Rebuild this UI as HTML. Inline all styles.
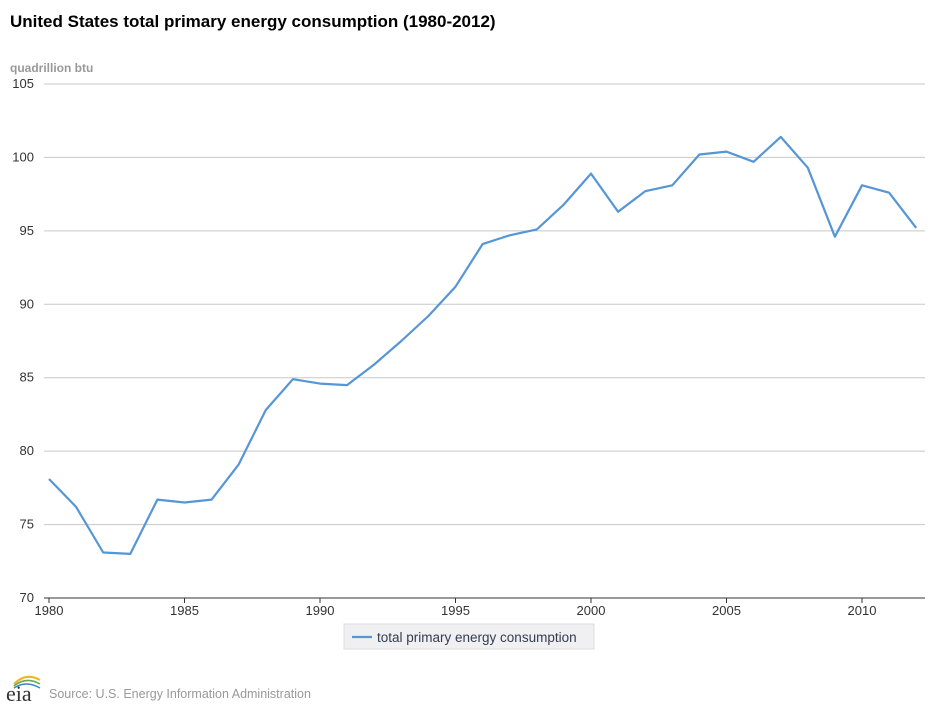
<!DOCTYPE html>
<html><head><meta charset="utf-8"><style>
body{margin:0;background:#fff;font-family:"Liberation Sans",sans-serif;}
#wrap{position:relative;width:937px;height:708px;overflow:hidden;}
</style></head><body>
<div id="wrap">
<svg id="chart" width="937" height="708">
<text x="10" y="27" font-size="17" font-weight="bold" fill="#000">United States total primary energy consumption (1980-2012)</text>
<text x="10" y="72" font-size="12" font-weight="bold" fill="#999">quadrillion btu</text>
<g id="grid"></g>
<g id="yticks"></g>
<g id="xticks"></g>
<path id="line" fill="none" stroke="#5596d6" stroke-width="2.2" stroke-linejoin="round"/>
<g>
<rect x="344" y="624" width="250" height="25" fill="#f0f0f2" stroke="#ddd"/>
<line x1="352" y1="637" x2="372" y2="637" stroke="#5596d6" stroke-width="2.2"/>
<text x="377" y="642" font-size="13.5" fill="#333c50">total primary energy consumption</text>
</g>
<g>
<text x="6" y="701" font-size="22" font-family="Liberation Serif,serif" fill="#333">eia</text>
<path d="M14 684 Q26 672 40 680" stroke="#e8b923" stroke-width="2" fill="none"/>
<path d="M14 686 Q26 676 40 684" stroke="#6aa84f" stroke-width="1.5" fill="none"/>
<path d="M14 688 Q26 680 40 688" stroke="#3d85c6" stroke-width="1.5" fill="none"/>
</g>
<text x="49" y="698" font-size="12.5" fill="#999">Source: U.S. Energy Information Administration</text>
</svg>
</div>
<script>
const years=[1980,1981,1982,1983,1984,1985,1986,1987,1988,1989,1990,1991,1992,1993,1994,1995,1996,1997,1998,1999,2000,2001,2002,2003,2004,2005,2006,2007,2008,2009,2010,2011,2012];
const consumption=[78.1,76.2,73.1,73.0,76.7,76.5,76.7,79.1,82.8,84.9,84.6,84.5,85.9,87.5,89.2,91.2,94.1,94.7,95.1,96.8,98.9,96.3,97.7,98.1,100.2,100.4,99.7,101.4,99.3,94.6,98.1,97.6,95.2];
const yTicks=[70,75,80,85,90,95,100,105];
const xTicks=[1980,1985,1990,1995,2000,2005,2010];
const NS="http://www.w3.org/2000/svg";
const x=v=>49+(v-1980)*(862-49)/30;
const y=v=>598-(v-70)*(598-84)/35;
const grid=document.getElementById('grid'),yt=document.getElementById('yticks'),xt=document.getElementById('xticks');
yTicks.forEach(t=>{
  const l=document.createElementNS(NS,'line');
  l.setAttribute('x1',44);l.setAttribute('x2',925);l.setAttribute('y1',y(t));l.setAttribute('y2',y(t));
  l.setAttribute('stroke',t===70?'#333':'#c8c8c8');l.setAttribute('stroke-width',1);
  
  
  grid.appendChild(l);
  const tx=document.createElementNS(NS,'text');
  tx.setAttribute('x',34);tx.setAttribute('y',y(t)+4);tx.setAttribute('text-anchor','end');
  tx.setAttribute('font-size',13);tx.setAttribute('fill','#333');tx.textContent=t;
  
  
  yt.appendChild(tx);
});
xTicks.forEach(t=>{
  const l=document.createElementNS(NS,'line');
  l.setAttribute('x1',x(t));l.setAttribute('x2',x(t));l.setAttribute('y1',598);l.setAttribute('y2',603);
  l.setAttribute('stroke','#333');
  
  
  xt.appendChild(l);
  const tx=document.createElementNS(NS,'text');
  tx.setAttribute('x',x(t));tx.setAttribute('y',615);tx.setAttribute('text-anchor','middle');
  tx.setAttribute('font-size',13);tx.setAttribute('fill','#333');tx.textContent=t;
  
  
  xt.appendChild(tx);
});
document.getElementById('line').setAttribute('d',years.map((yr,i)=>(i?'L':'M')+x(yr).toFixed(1)+' '+y(consumption[i]).toFixed(1)).join(' '));
</script>
</body></html>
